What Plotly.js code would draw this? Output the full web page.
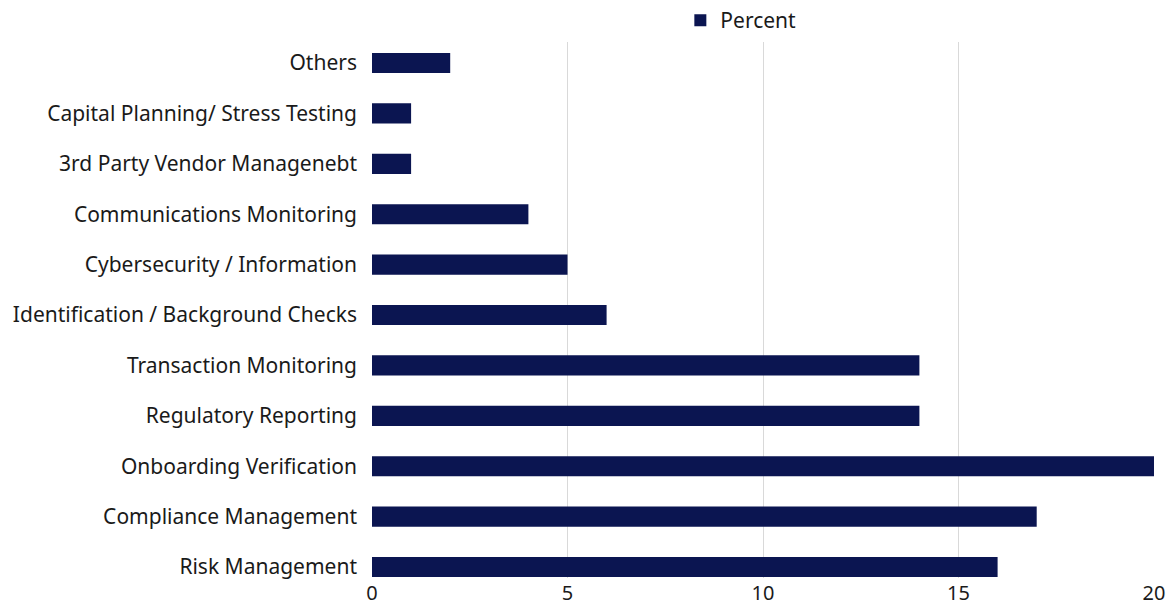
<!DOCTYPE html>
<html>
<head>
<meta charset="utf-8">
<script src="https://cdn.plot.ly/plotly-3.0.1.min.js"></script>
<style>html,body{margin:0;padding:0;background:#fff;}#chart{width:1173px;height:610px;}</style>
</head>
<body>
<div id="chart"></div>
<script>
const categories = [
  "Risk Management",
  "Compliance Management",
  "Onboarding Verification",
  "Regulatory Reporting",
  "Transaction Monitoring",
  "Identification / Background Checks",
  "Cybersecurity / Information",
  "Communications Monitoring",
  "3rd Party Vendor Managenebt",
  "Capital Planning/ Stress Testing",
  "Others"
];
const percentValues = [16, 17, 20, 14, 14, 6, 5, 4, 1, 1, 2];
const xTickValues = [0, 5, 10, 15, 20];
const seriesName = "Percent";

const fontFam = "'Noto Sans', 'Open Sans', sans-serif";
const txtColor = '#1a1a1a';
const trace = {
  type: 'bar',
  orientation: 'h',
  name: seriesName,
  x: percentValues,
  y: categories,
  width: 0.4,
  marker: {color: '#0b1551'},
  showlegend: true,
  hoverinfo: 'x+y'
};
const layout = {
  width: 1173, height: 610,
  margin: {l: 372, r: 19, t: 42, b: 32, pad: 0, autoexpand: false},
  paper_bgcolor: '#ffffff', plot_bgcolor: '#ffffff',
  font: {family: fontFam, size: 21, color: txtColor},
  showlegend: true,
  legend: {orientation: 'h', xref: 'container', yref: 'container', x: 0.58, xanchor: 'left', y: 1.0, yanchor: 'top',
           font: {family: fontFam, size: 21, color: txtColor}, itemwidth: 30, bgcolor: 'rgba(0,0,0,0)'},
  xaxis: {
    range: [0, 20], tickvals: xTickValues, ticktext: xTickValues.map(String),
    showgrid: true, gridcolor: '#d9d9d9', gridwidth: 1, zeroline: false,
    showline: false, ticks: '', ticklabelstandoff: 1, fixedrange: true,
    tickfont: {family: fontFam, size: 20, color: txtColor}
  },
  yaxis: {
    type: 'category', categoryorder: 'array', categoryarray: categories,
    range: [-0.218, 10.417], showgrid: false, zeroline: false, showline: false,
    ticks: '', ticklabelstandoff: 14, fixedrange: true,
    tickfont: {family: fontFam, size: 21, color: txtColor}
  },
  bargap: 0.6
};
Plotly.newPlot('chart', [trace], layout, {displayModeBar: false, staticPlot: true});
</script>
</body>
</html>
